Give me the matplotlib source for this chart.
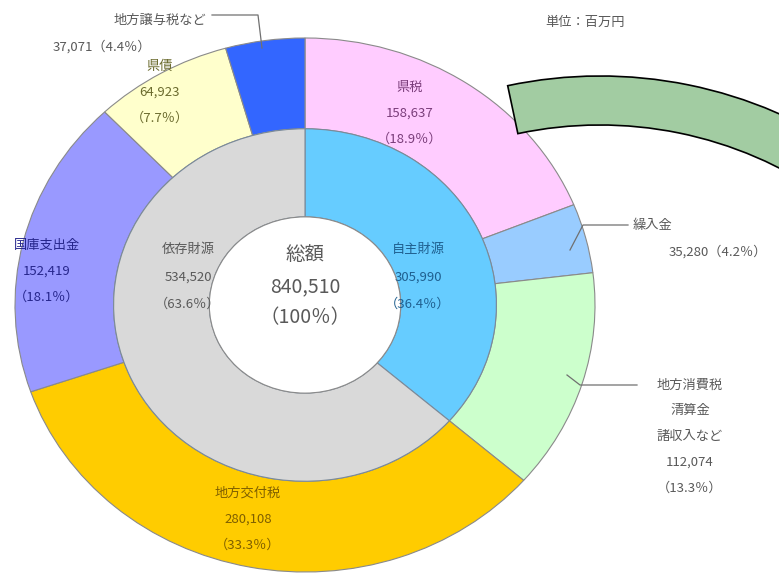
import numpy as np
import matplotlib
matplotlib.use('Agg')
import matplotlib.pyplot as plt
from matplotlib.patches import Wedge, Ellipse

plt.rcParams['font.family'] = ['Noto Sans CJK JP', 'DejaVu Sans']

# data (unit: million yen)
outer_labels = ['県税', '繰入金', '地方消費税\n清算金\n諸収入など', '地方交付税',
                '国庫支出金', '県債', '地方譲与税など']
outer_values = [158637, 35280, 112074, 280108, 152419, 64923, 37071]
outer_pct = [18.9, 4.2, 13.3, 33.3, 18.1, 7.7, 4.4]
outer_colors = ['#ffccff', '#99ccff', '#ccffcc', '#ffcc00', '#9999ff', '#ffffcc', '#3366ff']

inner_labels = ['自主財源', '依存財源']
inner_values = [305990, 534520]
inner_pct = [36.4, 63.6]
inner_colors = ['#66ccff', '#d9d9d9']

total_label = '総額'
total_value = 840510

W, H = 779, 575
fig = plt.figure(figsize=(W / 100, H / 100), dpi=100)

# pie axes, slightly stretched horizontally like the original picture
cx, cy, rx, ry = 305, 305, 290, 267
ax = fig.add_axes([(cx - rx) / W, (H - cy - ry) / H, 2 * rx / W, 2 * ry / H])
ax.pie(outer_values, radius=1.0, colors=outer_colors, startangle=90, counterclock=False,
       wedgeprops=dict(width=0.34, edgecolor='#8a8a8a', linewidth=0.8))
ax.pie(inner_values, radius=0.66, colors=inner_colors, startangle=90, counterclock=False,
       wedgeprops=dict(width=0.33, edgecolor='#7a8a9a', linewidth=0.8))
ax.add_patch(Ellipse((0, 0), 0.66, 0.66, facecolor='white', edgecolor='#8a8a8a', linewidth=0.8))
ax.set_aspect('auto')
ax.set_xlim(-1, 1)
ax.set_ylim(-1, 1)
ax.axis('off')

# overlay in pixel coordinates for texts, leader lines and the arrow
ov = fig.add_axes([0, 0, 1, 1])
ov.set_xlim(0, W)
ov.set_ylim(H, 0)
ov.axis('off')
ov.patch.set_alpha(0)

ov.add_patch(Wedge((600, 520), 444, -102, -55, width=49, facecolor='#a2cca2',
                   edgecolor='black', linewidth=1.2))

fs = 9.5
gray = '#595959'

def label(x, y, name, value, pct, color, ha='center', gap=26):
    lines = name.split('\n') + [f'{value:,}', f'（{pct}％）']
    for i, t in enumerate(lines):
        ov.text(x, y + i * gap, t, ha=ha, va='center', fontsize=fs, color=color)

# outer ring labels
label(410, 87, outer_labels[0], outer_values[0], outer_pct[0], '#7a3d7a')
label(248, 493, outer_labels[3], outer_values[3], outer_pct[3], '#7f5f00')
label(47, 245, outer_labels[4], outer_values[4], outer_pct[4], '#26268c')
label(160, 66, outer_labels[5], outer_values[5], outer_pct[5], '#6b6b2e')
label(690, 385, outer_labels[2], outer_values[2], outer_pct[2], gray, gap=25.7)

# labels outside with leader lines
ov.text(652, 225, outer_labels[1], ha='center', va='center', fontsize=fs, color=gray)
ov.text(718, 252, f'{outer_values[1]:,}（{outer_pct[1]}％）', ha='center', va='center',
        fontsize=fs, color=gray)
ov.plot([628, 583, 570], [225, 225, 250], color='#707070', lw=0.9)

ov.text(160, 20, outer_labels[6], ha='center', va='center', fontsize=fs, color=gray)
ov.text(102, 47, f'{outer_values[6]:,}（{outer_pct[6]}％）', ha='center', va='center',
        fontsize=fs, color=gray)
ov.plot([212, 258, 262], [15, 15, 48], color='#707070', lw=0.9)

ov.plot([637, 580, 567], [385, 385, 375], color='#707070', lw=0.9)

# inner ring labels
label(418, 250, inner_labels[0], inner_values[0], inner_pct[0], '#1f5f8f', gap=27)
label(188, 250, inner_labels[1], inner_values[1], inner_pct[1], gray, gap=27)

# centre
ov.text(305, 255, total_label, ha='center', va='center', fontsize=14, color=gray)
ov.text(305, 287, f'{total_value:,}', ha='center', va='center', fontsize=14, color=gray)
ov.text(305, 318, '（100％）', ha='center', va='center', fontsize=14, color=gray)

ov.text(585, 22, '単位：百万円', ha='center', va='center', fontsize=fs, color=gray)

fig.savefig('out.png', dpi=100)
